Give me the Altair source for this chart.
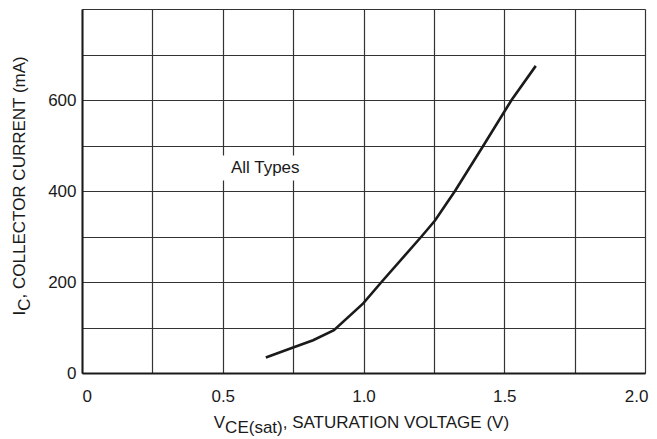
import altair as alt
import pandas as pd

# Curve (V, mA)
vce = [0.653, 0.75, 0.821, 0.895, 0.999, 1.064, 1.206, 1.254, 1.325, 1.425, 1.526, 1.612]
ic = [34, 56, 72, 94, 153, 200, 300, 335, 400, 499, 600, 675]

x_ticks = [0, 0.25, 0.5, 0.75, 1.0, 1.25, 1.5, 1.75, 2.0]
y_ticks = [0, 100, 200, 300, 400, 500, 600, 700, 800]

note_text = ["All Types"]
note_x = [0.529]
note_y = [438.6]
box_x = [0.487]
box_x2 = [0.78]
box_y = [423]
box_y2 = [478]

FONT = "Liberation Sans, Arial, sans-serif"
INK = "#1a1a1a"
FS = 17

curve = pd.DataFrame({"vce": vce, "ic": ic})
note = pd.DataFrame({"x": note_x, "y": note_y, "t": note_text})
box = pd.DataFrame({"x": box_x, "x2": box_x2, "y": box_y, "y2": box_y2})
one = pd.DataFrame({"d": [0]})

xs = alt.Scale(domain=[0, 2], nice=False, zero=False)
ys = alt.Scale(domain=[0, 800], nice=False, zero=False)

x_axis = alt.Axis(
    values=x_ticks, title=None, grid=True, ticks=False, tickSize=0,
    labelPadding=28, labelBaseline="alphabetic", labelFont=FONT, labelFontSize=FS,
    labelColor=INK, labelOverlap=False, labelBound=False, labelFlush=False,
    labelAlign={"condition": [
        {"test": "datum.value == 0", "value": "left"},
        {"test": "datum.value == 2", "value": "right"},
    ], "value": "center"},
    labelOffset={"condition": {"test": "datum.value == 2", "value": 3}, "value": 0},
    labelExpr="datum.value == 0 ? '0' : ((datum.value * 2) % 1 == 0 ? format(datum.value, '.1f') : '')",
    domainColor=INK, domainWidth=2, gridColor="#333333", gridWidth=1.2,
)
y_axis = alt.Axis(
    values=y_ticks, title=None, grid=True, ticks=False, tickSize=0,
    labelPadding=6, labelBaseline="middle", labelFont=FONT, labelFontSize=FS,
    labelColor=INK, labelOverlap=False, labelBound=False, labelFlush=False,
    labelExpr="(datum.value % 200 == 0 && datum.value < 800) ? format(datum.value, 'd') : ''",
    domainColor=INK, domainWidth=2, gridColor="#333333", gridWidth=1.2,
)

line = alt.Chart(curve).mark_line(color=INK, strokeWidth=2.6).encode(
    x=alt.X("vce:Q", scale=xs, axis=x_axis),
    y=alt.Y("ic:Q", scale=ys, axis=y_axis),
)

rect = alt.Chart(box).mark_rect(color="white").encode(
    x=alt.X("x:Q", scale=xs), x2="x2", y=alt.Y("y:Q", scale=ys), y2="y2"
)

label = alt.Chart(note).mark_text(
    align="left", baseline="alphabetic", font=FONT, fontSize=FS, color=INK
).encode(x=alt.X("x:Q", scale=xs), y=alt.Y("y:Q", scale=ys), text="t:N")


def piece(txt, px, py, angle=0, size=FS):
    return alt.Chart(one).mark_text(
        align="left", baseline="alphabetic", font=FONT, fontSize=size,
        color=INK, angle=angle
    ).encode(x=alt.value(px), y=alt.value(py), text=alt.value(txt))


titles = [
    piece("V", 131.8, 419),
    piece("CE(sat)", 143.1, 424),
    piece(", SATURATION VOLTAGE (V)", 200.7, 419),
    piece("I", -57, 306.4, angle=270),
    piece("C", -52, 301.7, angle=270),
    piece(", COLLECTOR CURRENT (mA)", -57, 289.4, angle=270),
]

chart = alt.layer(rect, line, label, *titles).properties(
    width=563, height=364,
    autosize=alt.AutoSizeParams(type="none"),
    padding={"left": 74, "top": 1, "right": 4, "bottom": 64},
    background="white",
).configure_view(stroke=None)

chart.save("out.html", embed_options={"renderer": "svg", "actions": False})
